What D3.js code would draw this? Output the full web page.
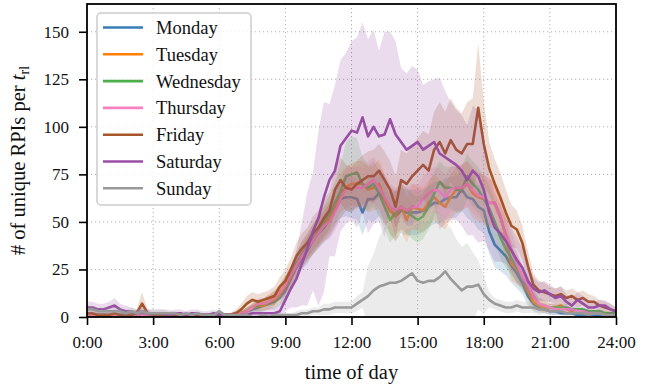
<!DOCTYPE html>
<html>
<head>
<meta charset="utf-8">
<script src="https://cdn.jsdelivr.net/npm/d3@7"></script>
<style>
  body { margin: 0; background: #fff; }
  text { font-family: "Liberation Serif", "DejaVu Serif", serif; fill: #111; }
</style>
</head>
<body>
<script>
// samples every 15 minutes, 0:00 .. 24:00
var hours = d3.range(97).map(function (i) { return i / 4; });

var days = ["Monday", "Tuesday", "Wednesday", "Thursday", "Friday", "Saturday", "Sunday"];
var colors = ["#377eb8", "#ff7f00", "#4daf4a", "#f781bf", "#a65628", "#984ea3", "#999999"];

var xTicks = [0, 3, 6, 9, 12, 15, 18, 21, 24];
var yTicks = [0, 25, 50, 75, 100, 125, 150];

var monday = [
  1,1,1,1, 1,1,1,1, 1,1,2,1, 1,1,1,1, 1,1,1,1, 1,1,1,1, 1,1,1,1,
  2,3,4,5, 6,7,8,10, 14,20,26,31, 35,40,44,47, 51,56,62,63,
  63,62,55,62, 62,65,62,56, 53,56,55,55, 55,56,58,60, 60,62,63,63,
  67,63,62,58, 56,45,38,35, 32,27,23,18, 11,7,5,4, 3,3,2,2,
  2,1,1,1, 1,1,0,0, 0];
var tuesday = [
  1,1,1,0, 1,1,0,1, 1,1,1,1, 1,0,1,1, 1,1,0,1, 1,1,1,1, 1,1,1,2,
  2,3,5,6, 6,8,9,12, 16,21,27,33, 37,41,45,49, 52,58,65,68,
  70,70,70,67, 68,70,62,56, 53,58,51,58, 57,56,60,63, 60,58,63,67,
  68,70,65,63, 62,60,60,53, 42,28,25,21, 14,8,6,5, 5,5,6,4,
  3,3,3,3, 3,2,2,1, 1];
var wednesday = [
  1,1,1,1, 1,1,1,1, 1,1,1,1, 1,1,1,1, 1,1,1,1, 1,1,1,1, 1,1,1,2,
  2,3,5,6, 7,8,10,13, 17,22,28,33, 37,41,45,50, 54,60,66,74,
  75,76,70,68, 70,65,58,51, 55,58,56,53, 51,53,58,65, 71,68,68,67,
  67,74,70,67, 62,57,50,42, 36,31,26,20, 16,11,7,6, 5,5,5,5,
  4,4,4,3, 3,3,2,2, 2];
var thursday = [
  1,1,1,1, 1,1,1,1, 1,1,1,1, 1,1,1,1, 1,1,1,1, 1,1,1,1, 1,1,1,2,
  2,3,5,7, 7,8,10,13, 17,22,27,32, 36,40,44,48, 50,55,62,67,
  68,68,68,70, 72,68,63,58, 56,58,56,58, 58,62,65,67, 66,63,67,68,
  68,70,67,64, 63,60,60,53, 43,36,28,21, 17,11,7,6, 5,4,4,4,
  4,3,3,2, 2,2,1,1, 1];
var friday = [
  2,2,1,1, 1,2,1,1, 1,2,7,2, 1,1,1,1, 1,1,1,1, 1,1,1,1, 1,1,1,2,
  4,7,9,8, 9,10,11,16, 19,25,32,36, 39,44,47,52, 56,67,72,68,
  67,70,72,74, 74,77,72,67, 58,72,70,74, 77,80,77,88, 92,86,93,88,
  86,91,91,110, 91,78,70,63, 55,48,46,39, 27,17,14,13, 12,11,12,10,
  11,9,10,8, 8,6,5,4, 3];
var saturday = [
  5,5,4,4, 5,6,4,3, 3,2,3,2, 2,2,2,1, 2,2,1,2, 2,1,1,2, 1,1,1,0,
  1,1,2,2, 2,2,2,3, 9,15,20,28, 36,45,52,63, 72,77,90,94,
  98,97,105,95, 100,95,96,104, 96,92,88,90, 92,88,90,92, 86,84,82,80,
  77,72,77,74, 67,55,47,44, 40,35,30,26, 19,15,13,14, 12,10,11,8,
  6,9,7,5, 5,6,6,4, 3];
var sunday = [
  4,4,3,3, 3,3,3,2, 3,2,3,2, 2,2,2,2, 2,1,2,1, 2,1,1,1, 3,1,1,1,
  1,1,0,0, 1,0,1,1, 1,1,1,2, 2,3,3,4, 4,5,5,5,
  5,7,9,11, 14,16,17,18, 18,19,21,23, 19,18,19,19, 21,24,20,17,
  14,16,16,17, 12,9,7,6, 5,5,6,5, 5,5,4,4, 3,3,3,2,
  2,2,2,1, 2,2,1,1, 1];

// half width of the shaded band around each day
var mondaySpread = [
  1,1,1,1, 1,1,1,1, 1,1,1,1, 1,1,1,1, 1,1,1,1, 1,1,1,1, 1,1,1,1,
  1,2,2,3, 3,3,4,4, 5,5,6,6, 7,7,8,8, 9,9,10,10,
  11,11,12,11, 12,12,12,12, 13,12,12,12, 12,11,11,11, 11,11,11,11,
  11,11,12,12, 12,12,12,11, 10,9,8,6, 5,4,3,2, 2,2,1,1,
  1,1,1,1, 1,1,1,1, 1];
var tuesdaySpread = [
  1,1,1,1, 1,1,1,1, 1,1,1,1, 1,1,1,1, 1,1,1,1, 1,1,1,1, 1,1,1,1,
  1,2,2,3, 3,4,4,5, 5,6,6,7, 7,8,8,9, 9,10,10,11,
  11,12,12,12, 12,13,13,13, 13,13,12,12, 12,12,12,12, 12,12,12,12,
  12,12,13,13, 13,13,12,12, 11,9,8,6, 5,4,3,3, 2,2,2,2,
  2,1,1,1, 1,1,1,1, 1];
var wednesdaySpread = [
  1,1,1,1, 1,1,1,1, 1,1,1,1, 1,1,1,1, 1,1,1,1, 1,1,1,1, 1,1,1,1,
  1,2,2,3, 3,3,4,4, 5,5,6,7, 7,8,8,9, 10,11,14,18,
  20,18,14,12, 12,12,12,12, 12,12,12,12, 12,12,12,12, 11,11,11,12,
  12,12,12,12, 12,12,11,11, 10,9,8,6, 5,4,3,3, 2,2,2,2,
  2,1,1,1, 1,1,1,1, 1];
var thursdaySpread = [
  1,1,1,1, 1,1,1,1, 1,1,1,1, 1,1,1,1, 1,1,1,1, 1,1,1,1, 1,1,1,1,
  1,2,2,3, 3,4,4,4, 5,5,6,6, 7,7,8,8, 9,10,10,11,
  11,11,11,12, 12,12,12,12, 12,12,12,12, 12,12,12,12, 12,12,12,12,
  12,12,12,12, 12,12,12,11, 10,9,8,6, 5,4,3,3, 2,2,2,2,
  1,1,1,1, 1,1,1,1, 1];
var fridaySpread = [
  2,2,2,2, 2,2,2,2, 2,2,6,2, 1,1,1,1, 1,1,1,1, 1,1,1,1, 1,1,1,2,
  3,4,4,4, 4,4,5,5, 6,6,7,8, 8,9,9,10, 10,12,12,12,
  12,12,13,13, 14,14,15,15, 16,16,16,17, 17,18,19,20, 21,22,22,22,
  21,22,24,34, 22,14,13,13, 12,11,10,9, 8,6,5,5, 4,4,4,4,
  4,4,4,4, 3,3,3,3, 2];
var saturdaySpread = [
  3,3,3,3, 3,4,3,3, 2,2,2,2, 2,2,2,2, 2,2,2,2, 2,2,2,2, 1,1,1,1,
  1,2,2,2, 2,3,3,4, 6,10,15,22, 30,31,46,50, 40,45,45,45,
  47,50,50,51, 51,45,54,46, 49,39,40,42, 38,34,34,33, 40,35,31,29,
  29,29,34,35, 27,20,18,15, 12,12,12,10, 8,6,5,5, 5,5,5,4,
  4,4,4,4, 3,3,3,3, 2];
var sundaySpread = [
  2,2,2,2, 2,2,2,2, 2,2,2,2, 2,2,2,2, 1,1,1,1, 1,1,1,1, 2,1,1,1,
  1,1,1,1, 1,1,1,1, 1,1,2,2, 2,2,2,3, 3,3,3,3,
  3,4,4,16, 19,26,30,30, 25,24,25,24, 31,32,32,37, 34,26,27,24,
  23,23,18,13, 10,4,3,3, 3,3,3,3, 3,3,3,2, 2,2,2,2,
  2,2,2,2, 1,1,1,1, 1];

var means = [monday, tuesday, wednesday, thursday, friday, saturday, sunday];
var spreads = [mondaySpread, tuesdaySpread, wednesdaySpread, thursdaySpread,
               fridaySpread, saturdaySpread, sundaySpread];

var width = 650,
    height = 388;
var plotLeft = 87, plotRight = 616, plotTop = 4, plotBottom = 317;

var x = d3.scaleLinear().domain([0, 24]).range([plotLeft, plotRight]);
var y = d3.scaleLinear().domain([0, 164.6]).range([plotBottom, plotTop]);

var svg = d3.select("body").append("svg")
    .attr("width", width)
    .attr("height", height);

svg.append("defs").append("clipPath").attr("id", "plot")
  .append("rect")
    .attr("x", plotLeft).attr("y", plotTop)
    .attr("width", plotRight - plotLeft).attr("height", plotBottom - plotTop);

// grid
svg.append("g").selectAll("line").data(xTicks).enter().append("line")
    .attr("x1", function (d) { return x(d); })
    .attr("x2", function (d) { return x(d); })
    .attr("y1", plotTop).attr("y2", plotBottom)
    .style("stroke", "#b0b0b0").style("stroke-width", 1)
    .style("stroke-dasharray", "1.2,2.8");
svg.append("g").selectAll("line").data(yTicks).enter().append("line")
    .attr("y1", function (d) { return y(d); })
    .attr("y2", function (d) { return y(d); })
    .attr("x1", plotLeft).attr("x2", plotRight)
    .style("stroke", "#b0b0b0").style("stroke-width", 1)
    .style("stroke-dasharray", "1.2,2.8");

var data = svg.append("g").attr("clip-path", "url(#plot)");

var line = d3.line()
    .x(function (d, i) { return x(hours[i]); })
    .y(function (d) { return y(d); });

days.forEach(function (day, k) {
    var m = means[k], s = spreads[k];
    data.append("path")
        .attr("d", line(m))
        .style("fill", "none")
        .style("stroke", colors[k])
        .style("stroke-width", 2.6)
        .style("stroke-linejoin", "round");
    var area = d3.area()
        .x(function (d, i) { return x(hours[i]); })
        .y0(function (d, i) { return y(m[i] - s[i]); })
        .y1(function (d, i) { return y(m[i] + s[i]); });
    data.append("path")
        .attr("d", area(m))
        .style("fill", colors[k])
        .style("fill-opacity", 0.2)
        .style("stroke", "none");
});

// axes
var xAxis = svg.append("g")
    .attr("transform", "translate(0," + plotBottom + ")")
    .call(d3.axisBottom(x).tickValues(xTicks)
        .tickFormat(function (d) { return d + ":00"; })
        .tickSize(8).tickSizeOuter(0).tickPadding(11));
var yAxis = svg.append("g")
    .attr("transform", "translate(" + plotLeft + ",0)")
    .call(d3.axisLeft(y).tickValues(yTicks)
        .tickSize(8).tickSizeOuter(0).tickPadding(10));

[xAxis, yAxis].forEach(function (a) {
    a.select(".domain").remove();
    a.selectAll(".tick line").style("stroke", "#000").style("stroke-width", 1.6);
    a.selectAll(".tick text")
        .style("font-family", "Liberation Serif, serif")
        .style("font-size", "17px")
        .style("fill", "#111");
});

svg.append("rect")
    .attr("x", plotLeft).attr("y", plotTop)
    .attr("width", plotRight - plotLeft).attr("height", plotBottom - plotTop)
    .style("fill", "none").style("stroke", "#000").style("stroke-width", 1.8);

// axis labels
svg.append("text")
    .attr("x", (plotLeft + plotRight) / 2).attr("y", 379)
    .attr("text-anchor", "middle")
    .style("font-size", "20.5px")
    .text("time of day");

var ylab = svg.append("text")
    .attr("transform", "translate(25," + ((plotTop + plotBottom) / 2) + ") rotate(-90)")
    .attr("text-anchor", "middle")
    .style("font-size", "20.5px");
ylab.append("tspan").text("# of unique RPIs per ");
ylab.append("tspan").style("font-style", "italic").text("t");
ylab.append("tspan").attr("dy", 4).style("font-size", "14px").text("rl");

// legend
var legend = svg.append("g");
legend.append("rect")
    .attr("x", 97).attr("y", 13)
    .attr("width", 154).attr("height", 192)
    .attr("rx", 4)
    .style("fill", "#fff").style("fill-opacity", 0.8)
    .style("stroke", "#cccccc").style("stroke-width", 1.5);

var rows = legend.selectAll("g.row").data(days).enter().append("g")
    .attr("class", "row")
    .attr("transform", function (d, i) { return "translate(0," + (27.5 + i * 26.8) + ")"; });
rows.append("line")
    .attr("x1", 103).attr("x2", 143)
    .style("stroke", function (d, i) { return colors[i]; })
    .style("stroke-width", 2.6);
rows.append("text")
    .attr("x", 156).attr("dy", "0.35em")
    .style("font-size", "18.5px")
    .text(function (d) { return d; });
</script>
</body>
</html>
